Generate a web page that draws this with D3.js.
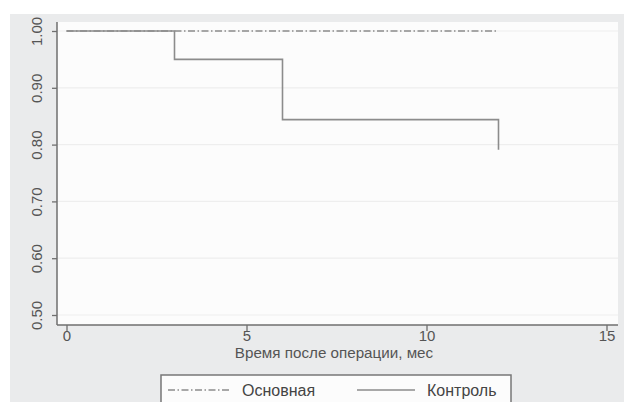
<!DOCTYPE html>
<html>
<head>
<meta charset="utf-8">
<script src="https://cdn.jsdelivr.net/npm/d3@7"></script>
<style>
  html, body { margin: 0; padding: 0; background: #ffffff; }
  svg { display: block; }
  text { font-family: "Liberation Sans", Arial, sans-serif; }
</style>
</head>
<body>
<svg id="chart" width="624" height="402"></svg>
<script>
// Kaplan–Meier survival curves, two groups
const groups = ["Основная", "Контроль"];
// step points: time (months) and cumulative survival
const mainTimes = [0, 12];
const mainSurv = [1.00, 1.00];
const ctrlTimes = [0, 3, 6, 12];
const ctrlSurv = [1.00, 0.95, 0.844, 0.791];

const xTicks = [0, 5, 10, 15];
const yTicks = [0.50, 0.60, 0.70, 0.80, 0.90, 1.00];
const xTitle = "Время после операции, мес";

const svg = d3.select("#chart");
const W = 624, H = 402;

// outer panel
svg.append("rect").attr("x", 10).attr("y", 14).attr("width", W - 10).attr("height", H - 14)
  .attr("fill", "#eaebec");

const plot = { left: 57, top: 22, right: 618, bottom: 325 };

const x = d3.scaleLinear().domain([0, 15]).range([66.5, 606.5]);
const y = d3.scaleLinear().domain([0.5, 1.0]).range([315, 31]);

// plot region
svg.append("rect")
  .attr("x", plot.left).attr("y", plot.top)
  .attr("width", plot.right - plot.left).attr("height", plot.bottom - plot.top)
  .attr("fill", "#fcfcfc");

// horizontal grid
svg.append("g").selectAll("line").data(yTicks).join("line")
  .attr("x1", plot.left).attr("x2", plot.right)
  .attr("y1", d => y(d)).attr("y2", d => y(d))
  .attr("stroke", "#eeeeee").attr("stroke-width", 1.2);

// axes
const yAxis = d3.axisLeft(y).tickValues(yTicks).tickSize(5).tickFormat(d3.format(".2f"));
const xAxis = d3.axisBottom(x).tickValues(xTicks).tickSize(6).tickFormat(d3.format("d"));

const gy = svg.append("g").attr("transform", `translate(${plot.left},0)`).call(yAxis);
gy.select(".domain").attr("d", `M0,${plot.top}V${plot.bottom}`);
const gx = svg.append("g").attr("transform", `translate(0,${plot.bottom})`).call(xAxis);
gx.select(".domain").attr("d", `M${plot.left},0H${plot.right}`);

[gx, gy].forEach(g => {
  g.select(".domain").attr("stroke", "#6f6f6f").attr("stroke-width", 1.5);
  g.selectAll(".tick line").attr("stroke", "#6f6f6f").attr("stroke-width", 1.3);
  g.selectAll(".tick text").attr("fill", "#555").attr("font-size", 15)
    .attr("font-family", "'Liberation Sans', Arial, sans-serif");
});
gx.selectAll(".tick text").attr("dy", "0.5em").attr("y", 8);
gy.selectAll(".tick text")
  .attr("x", null).attr("dy", null)
  .attr("text-anchor", "middle")
  .attr("transform", "translate(-15,0) rotate(-90)")
  .attr("y", 0);

// x-axis title
svg.append("text").attr("x", 334).attr("y", 358)
  .attr("text-anchor", "middle").attr("font-size", 15.2).attr("fill", "#555")
  .text(xTitle);

// survival step curves
const step = d3.line().x(d => x(d[0])).y(d => y(d[1])).curve(d3.curveStepAfter);
const lineColor = "#8c8c8c";
const dashDot = "7,2.5,1.5,2.5";

svg.append("path")
  .datum(mainTimes.map((t, i) => [t, mainSurv[i]]))
  .attr("d", step).attr("fill", "none")
  .attr("stroke", lineColor).attr("stroke-width", 1.6)
  .attr("stroke-dasharray", dashDot);

svg.append("path")
  .datum(ctrlTimes.map((t, i) => [t, ctrlSurv[i]]))
  .attr("d", step).attr("fill", "none")
  .attr("stroke", lineColor).attr("stroke-width", 1.6);

// legend
const lg = svg.append("g");
lg.append("rect").attr("x", 161).attr("y", 375).attr("width", 350).attr("height", 40)
  .attr("fill", "#fcfcfc").attr("stroke", "#777").attr("stroke-width", 1.5);
const legendItems = [
  { name: groups[0], x1: 168, x2: 230, tx: 242, dash: dashDot },
  { name: groups[1], x1: 357, x2: 415, tx: 427, dash: null }
];
legendItems.forEach(it => {
  lg.append("line").attr("x1", it.x1).attr("x2", it.x2).attr("y1", 390).attr("y2", 390)
    .attr("stroke", lineColor).attr("stroke-width", 1.5)
    .attr("stroke-dasharray", it.dash);
  lg.append("text").attr("x", it.tx).attr("y", 396)
    .attr("font-size", 16).attr("fill", "#444").text(it.name);
});
</script>
</body>
</html>
